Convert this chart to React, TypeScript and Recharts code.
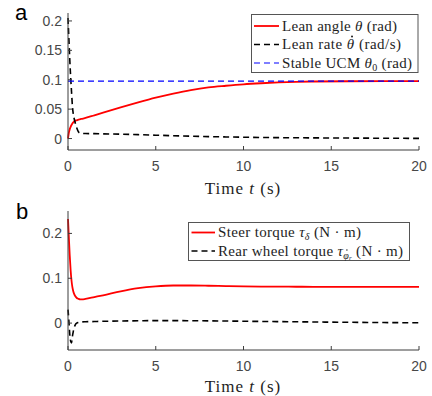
import React, { useLayoutEffect, useRef, useState } from 'react';
import { LineChart, Line, XAxis, YAxis } from 'recharts';

// time samples (s), dense near t = 0 for the fast transients
const timeS = [0, 0.05, 0.1, 0.15, 0.2, 0.25, 0.3, 0.35, 0.4, 0.5, 0.6, 0.7, 0.8, 1, 1.5, 2, 3, 4, 5, 6, 7, 8, 9, 10, 11, 12, 13, 14, 16, 18, 20];

// panel a
const leanAngle = [0, 0.010, 0.016, 0.020, 0.023, 0.0255, 0.0275, 0.029, 0.030, 0.031, 0.032, 0.033, 0.0335, 0.035, 0.0395, 0.044, 0.053, 0.0615, 0.0695, 0.0765, 0.0825, 0.087, 0.0898, 0.0922, 0.094, 0.0955, 0.0965, 0.097, 0.0974, 0.0975, 0.0975];
const leanRate = [0.205, 0.17, 0.135, 0.105, 0.08, 0.056, 0.042, 0.034, 0.028, 0.018, 0.011, 0.0092, 0.0087, 0.0085, 0.0083, 0.008, 0.0074, 0.0066, 0.0057, 0.0048, 0.004, 0.0033, 0.0027, 0.0022, 0.0018, 0.0015, 0.0013, 0.0011, 0.0008, 0.0005, 0.0003];
const ucmTime = [0, 20];
const ucmTheta = [0.0975, 0.0975];

// panel b
const steerTorque = [0.232, 0.19, 0.15, 0.118, 0.095, 0.08, 0.071, 0.065, 0.061, 0.056, 0.054, 0.053, 0.053, 0.054, 0.058, 0.062, 0.071, 0.078, 0.082, 0.0838, 0.0838, 0.0833, 0.0825, 0.0818, 0.0814, 0.0812, 0.0811, 0.081, 0.081, 0.081, 0.081];
const rearTorque = [0.03, 0.005, -0.025, -0.04, -0.044, -0.03, -0.019, -0.011, -0.005, 0, 0.0015, 0.0022, 0.0027, 0.003, 0.0035, 0.004, 0.0047, 0.0052, 0.0055, 0.0055, 0.0053, 0.005, 0.0046, 0.0042, 0.0037, 0.0033, 0.0029, 0.0025, 0.0018, 0.0012, 0.0007];

const xTicks = [0, 5, 10, 15, 20];
const yTicksA = [0, 0.05, 0.1, 0.15, 0.2];
const yTicksB = [0, 0.1, 0.2];

const dataA = timeS.map((t, i) => ({ t, angle: leanAngle[i], rate: leanRate[i] }));
const dataUcm = ucmTime.map((t, i) => ({ t, ucm: ucmTheta[i] }));
const dataB = timeS.map((t, i) => ({ t, steer: steerTorque[i], rear: rearTorque[i] }));

const axisColor = '#3c3c3c';
const tickStyle = { fill: '#474747', fontSize: 14, fontFamily: '"Liberation Sans", Arial, sans-serif' };
const serif = '"Liberation Serif", "Times New Roman", serif';
const textFill = '#1e1e1e';

function Frame(yDomain: number[], yTicks: number[]) {
  return [
    <XAxis key="xb" dataKey="t" type="number" domain={[0, 20]} ticks={xTicks} height={30}
      stroke={axisColor} tickSize={-4} tickMargin={15} tick={tickStyle} />,
    <XAxis key="xt" xAxisId="top" orientation="top" dataKey="t" type="number" domain={[0, 20]}
      ticks={xTicks} height={0} stroke={axisColor} tickSize={-4} tick={false} />,
    <YAxis key="yl" type="number" domain={yDomain} allowDataOverflow ticks={yTicks} width={68}
      stroke={axisColor} tickSize={-4} tickMargin={10} tick={tickStyle} />,
    <YAxis key="yr" yAxisId="right" orientation="right" type="number" domain={yDomain} allowDataOverflow
      ticks={yTicks} width={0} stroke={axisColor} tickSize={-4} tick={false} />,
  ];
}

export default function App() {
  // dots for the time-derivative accents, placed over the measured glyphs
  const thetaRef = useRef<SVGTSpanElement>(null);
  const phiRef = useRef<SVGTSpanElement>(null);
  const [dots, setDots] = useState<{ x: number; y: number; r: number }[]>([]);

  useLayoutEffect(() => {
    const out: { x: number; y: number; r: number }[] = [];
    const th = thetaRef.current;
    if (th) {
      const s = th.getStartPositionOfChar(0);
      const e = th.getEndPositionOfChar(0);
      out.push({ x: (s.x + e.x) / 2 + 1.5, y: s.y - 12.5, r: 1 });
    }
    const ph = phiRef.current;
    if (ph) {
      const s = ph.getStartPositionOfChar(0);
      const e = ph.getEndPositionOfChar(0);
      out.push({ x: (s.x + e.x) / 2 + 1, y: s.y - 8.5, r: 0.7 });
    }
    setDots(out);
  }, []);

  return (
    <div style={{ position: 'absolute', left: 0, top: 0, width: 432, height: 396, background: '#fff' }}>
      <div style={{ position: 'absolute', left: 0, top: 0 }}>
        <LineChart width={432} height={200} data={dataA} margin={{ top: 13, right: 13, bottom: 20, left: 0 }}>
          {Frame([-0.0195, 0.2135], yTicksA)}
          <Line type="monotone" dataKey="angle" stroke="#ff0000" strokeWidth={1.8} dot={false} isAnimationActive={false} />
          <Line type="monotone" dataKey="rate" stroke="#000" strokeWidth={1.6} strokeDasharray="6 4" dot={false} isAnimationActive={false} />
          <Line data={dataUcm} dataKey="ucm" stroke="#0000ff" strokeWidth={1.2} strokeDasharray="6 4" dot={false} isAnimationActive={false} />
        </LineChart>
      </div>
      <div style={{ position: 'absolute', left: 0, top: 200 }}>
        <LineChart width={432} height={196} data={dataB} margin={{ top: 11, right: 13, bottom: 16, left: 0 }}>
          {Frame([-0.06, 0.25], yTicksB)}
          <Line type="monotone" dataKey="steer" stroke="#ff0000" strokeWidth={1.8} dot={false} isAnimationActive={false} />
          <Line type="monotone" dataKey="rear" stroke="#000" strokeWidth={1.6} strokeDasharray="6 4" dot={false} isAnimationActive={false} />
        </LineChart>
      </div>
      <svg width={432} height={396} style={{ position: 'absolute', left: 0, top: 0, pointerEvents: 'none' }}>
        <text x={15} y={20} fontSize={22} fontFamily='"Liberation Sans", Arial, sans-serif'>a</text>
        <text x={16} y={219} fontSize={22} fontFamily='"Liberation Sans", Arial, sans-serif'>b</text>

        <g fontSize={17} letterSpacing={1} fontFamily={serif} fill={textFill} textAnchor="middle">
          <text x={243} y={194}>Time <tspan fontStyle="italic">t</tspan> (s)</text>
          <text x={243} y={392}>Time <tspan fontStyle="italic">t</tspan> (s)</text>
        </g>

        {/* legend a */}
        <rect x={251.5} y={14.5} width={166.5} height={58} fill="#fff" stroke="#555" />
        <line x1={254} x2={279} y1={26} y2={26} stroke="#ff0000" strokeWidth={1.8} />
        <line x1={254} x2={279} y1={44.5} y2={44.5} stroke="#000" strokeWidth={1.6} strokeDasharray="6 4" />
        <line x1={254} x2={279} y1={63} y2={63} stroke="#0000ff" strokeWidth={1.2} strokeDasharray="6 4" />
        <g fontSize={15} fontFamily={serif} fill={textFill}>
          <text x={282} y={30.5} textLength={115} lengthAdjust="spacing">Lean angle <tspan fontStyle="italic">θ</tspan> (rad)</text>
          <text x={282} y={49} textLength={119} lengthAdjust="spacing">Lean rate <tspan ref={thetaRef} fontStyle="italic">θ</tspan> (rad/s)</text>
          <text x={282} y={67.5} textLength={130} lengthAdjust="spacing">Stable UCM <tspan fontStyle="italic">θ</tspan><tspan dy={3} fontSize={10}>0</tspan><tspan dy={-3}> (rad)</tspan></text>
        </g>

        {/* legend b */}
        <rect x={188.5} y={222.5} width={221} height={38} fill="#fff" stroke="#555" />
        <line x1={191.5} x2={215} y1={232.5} y2={232.5} stroke="#ff0000" strokeWidth={1.8} />
        <line x1={191.5} x2={215} y1={251} y2={251} stroke="#000" strokeWidth={1.6} strokeDasharray="6 4" />
        <g fontSize={15} fontFamily={serif} fill={textFill}>
          <text x={218} y={237} textLength={143} lengthAdjust="spacing">Steer torque <tspan fontStyle="italic">τ</tspan><tspan dy={3} fontSize={10} fontStyle="italic">δ</tspan><tspan dy={-3}> (N · m)</tspan></text>
          <text x={218} y={255.5} textLength={185} lengthAdjust="spacing">Rear wheel torque <tspan fontStyle="italic">τ</tspan><tspan ref={phiRef} dy={3} fontSize={10} fontStyle="italic">φ</tspan><tspan dy={1.5} fontSize={7} fontStyle="italic">r</tspan><tspan dy={-4.5}> (N · m)</tspan></text>
        </g>
        {dots.map((d, i) => (
          <circle key={i} cx={d.x} cy={d.y} r={d.r} fill={textFill} />
        ))}
      </svg>
    </div>
  );
}
